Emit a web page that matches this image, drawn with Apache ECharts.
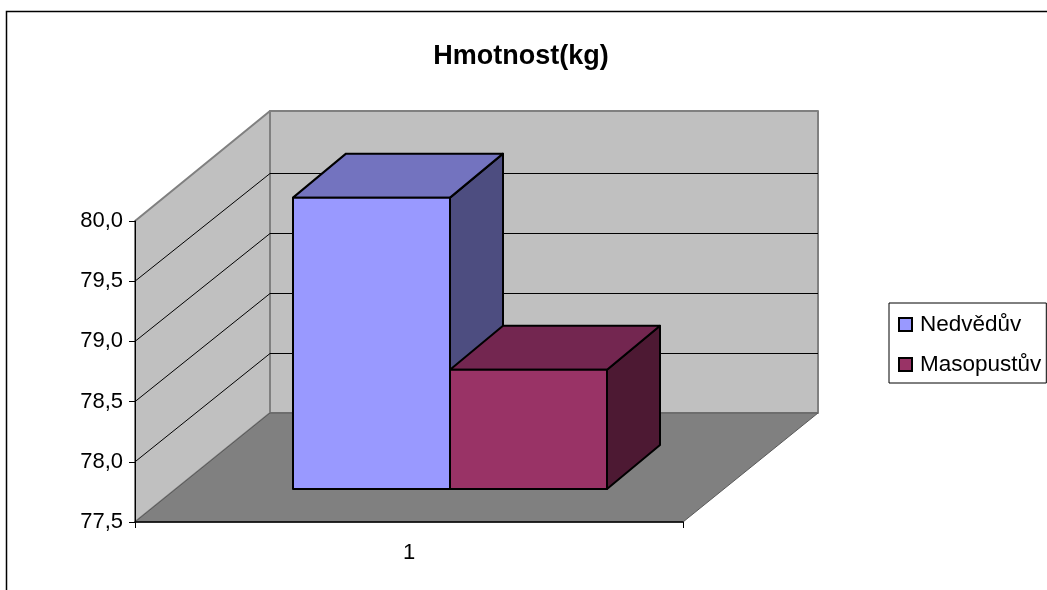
<!DOCTYPE html>
<html><head><meta charset="utf-8">
<style>html,body{margin:0;padding:0;background:#fff}#c{width:1047px;height:590px}</style>
<script src="https://cdn.jsdelivr.net/npm/echarts@6/dist/echarts.min.js"></script>
</head><body><div id="c"></div>
<script>
var categories = ['1'];
var seriesNames = ['Nedvědův', 'Masopustův'];
var nedveduv = [79.92];
var masopustuv = [78.49];
var gridTicks = [77.5, 78, 78.5, 79, 79.5, 80];
var yMin = 77.5, yMax = 80, yStep = 0.5;
var titleText = 'Hmotnost(kg)';

var FONT = '"Liberation Sans", Arial, sans-serif';
var DEPTH_X = 135;                         // floor depth in pixels
var WALL_TOP_DY = -110, WALL_BOTTOM_DY = -109, GRIDLINE_DY = -108;
var BAR_DX = 41, BAR_DY = -33;             // how far bars stand behind the front edge
var BAR_DEPTH_X = 53, BAR_DEPTH_Y = -44;   // depth of a bar
var BAR_INSET = 117;                       // band edge to the first bar

function poly(pts, fill, stroke, lw) {
  return { type: 'polygon', shape: { points: pts }, style: { fill: fill, stroke: stroke, lineWidth: lw, lineJoin: 'round' } };
}
function line(a, b, stroke, lw) {
  return { type: 'line', shape: { x1: a[0], y1: a[1], x2: b[0], y2: b[1] }, style: { stroke: stroke, lineWidth: lw } };
}

function renderWalls(params, api) {
  var v = api.value(1);
  var p = api.coord([0, v]);
  var w = api.size([1, 0])[0];
  var left = p[0] - w / 2, right = p[0] + w / 2;
  var children = [];
  if (params.dataIndex === 0) {
    var y0 = api.coord([0, yMin])[1], y1 = api.coord([0, yMax])[1];
    var by = y0 + WALL_BOTTOM_DY, ty = y1 + WALL_TOP_DY;
    var bl = left + DEPTH_X, br = right + DEPTH_X;
    children.push(poly([[left, y0], [bl, by], [bl, ty], [left, y1]], '#C0C0C0', '#808080', 2));
    children.push(poly([[bl, by], [br, by], [br, ty], [bl, ty]], '#C0C0C0', '#808080', 2));
    children.push(poly([[left, y0], [right, y0], [br, by], [bl, by]], '#808080', '#5a5a5a', 1));
  }
  if (v > yMin && v < yMax) {
    var gy = Math.floor(p[1] + GRIDLINE_DY) + 0.5;
    children.push(line([left, p[1]], [left + DEPTH_X, gy], '#000', 1));
    children.push(line([left + DEPTH_X, gy], [right + DEPTH_X, gy], '#000', 1));
  }
  return { type: 'group', children: children };
}

function makeBar(slot, colors) {
  return function (params, api) {
    var base = api.coord([api.value(0), yMin]);
    var top = api.coord([api.value(0), api.value(1)]);
    var w = api.size([1, 0])[0];
    var barW = (w - 2 * BAR_INSET) / 2;
    var x0 = base[0] - w / 2 + BAR_DX + BAR_INSET + slot * barW;
    var x1 = x0 + barW;
    var yb = base[1] + BAR_DY, yt = top[1] + BAR_DY;
    var dx = BAR_DEPTH_X, dy = BAR_DEPTH_Y;
    return { type: 'group', children: [
      poly([[x1, yb], [x1 + dx, yb + dy], [x1 + dx, yt + dy], [x1, yt]], colors[2], '#000', 2),
      poly([[x0, yt], [x1, yt], [x1 + dx, yt + dy], [x0 + dx, yt + dy]], colors[1], '#000', 2),
      poly([[x0, yb], [x1, yb], [x1, yt], [x0, yt]], colors[0], '#000', 2)
    ] };
  };
}

var chart = echarts.init(document.getElementById('c'), null, { renderer: 'canvas' });
chart.setOption({
  animation: false,
  backgroundColor: '#fff',
  textStyle: { fontFamily: FONT },
  title: {
    text: titleText, left: 516, top: 38, textAlign: 'center',
    textStyle: { fontFamily: FONT, fontSize: 27, fontWeight: 'bold', color: '#000' }
  },
  legend: {
    data: seriesNames, orient: 'vertical', left: 889, top: 303,
    padding: [10, 5, 7, 9], itemGap: 17, itemWidth: 13, itemHeight: 13,
    borderColor: '#000', borderWidth: 1, backgroundColor: '#fff',
    icon: 'rect', selectedMode: false,
    textStyle: { fontFamily: FONT, fontSize: 22.5, color: '#000', padding: [0, 0, 0, 3] }
  },
  grid: { left: 135, top: 221, width: 548, height: 301 },
  xAxis: {
    type: 'category', data: categories, z: 10,
    axisLine: { lineStyle: { color: '#000', width: 1.5 } },
    axisTick: { show: true, length: 6, lineStyle: { color: '#000', width: 1 } },
    axisLabel: { color: '#000', fontSize: 22, fontFamily: FONT, margin: 20 },
    splitLine: { show: false }
  },
  yAxis: {
    type: 'value', min: yMin, max: yMax, interval: yStep, z: 10,
    axisLine: { show: true, lineStyle: { color: '#000', width: 1 } },
    axisTick: { show: true, length: 6, lineStyle: { color: '#000', width: 1 } },
    axisLabel: { color: '#000', fontSize: 22, fontFamily: FONT, margin: 12,
      formatter: function (v) { return v.toFixed(1).replace('.', ','); } },
    splitLine: { show: false }
  },
  graphic: [{ type: 'rect', silent: true, z: -1,
    shape: { x: 6.5, y: 11.5, width: 1200, height: 800 },
    style: { fill: 'none', stroke: '#000', lineWidth: 1.5 } }],
  series: [
    { type: 'custom', name: 'walls', z: 1, silent: true, renderItem: renderWalls,
      data: gridTicks.map(function (t) { return [0, t]; }), encode: { x: 0, y: 1 } },
    { type: 'custom', name: seriesNames[0], z: 3, silent: true,
      renderItem: makeBar(0, ['#9999FF', '#7373BF', '#4D4D80']),
      itemStyle: { color: '#9999FF', borderColor: '#000', borderWidth: 1.5 },
      data: nedveduv.map(function (v, i) { return [i, v]; }), encode: { x: 0, y: 1 } },
    { type: 'custom', name: seriesNames[1], z: 4, silent: true,
      renderItem: makeBar(1, ['#993366', '#732650', '#4D1933']),
      itemStyle: { color: '#993366', borderColor: '#000', borderWidth: 1.5 },
      data: masopustuv.map(function (v, i) { return [i, v]; }), encode: { x: 0, y: 1 } }
  ]
});
</script></body></html>
